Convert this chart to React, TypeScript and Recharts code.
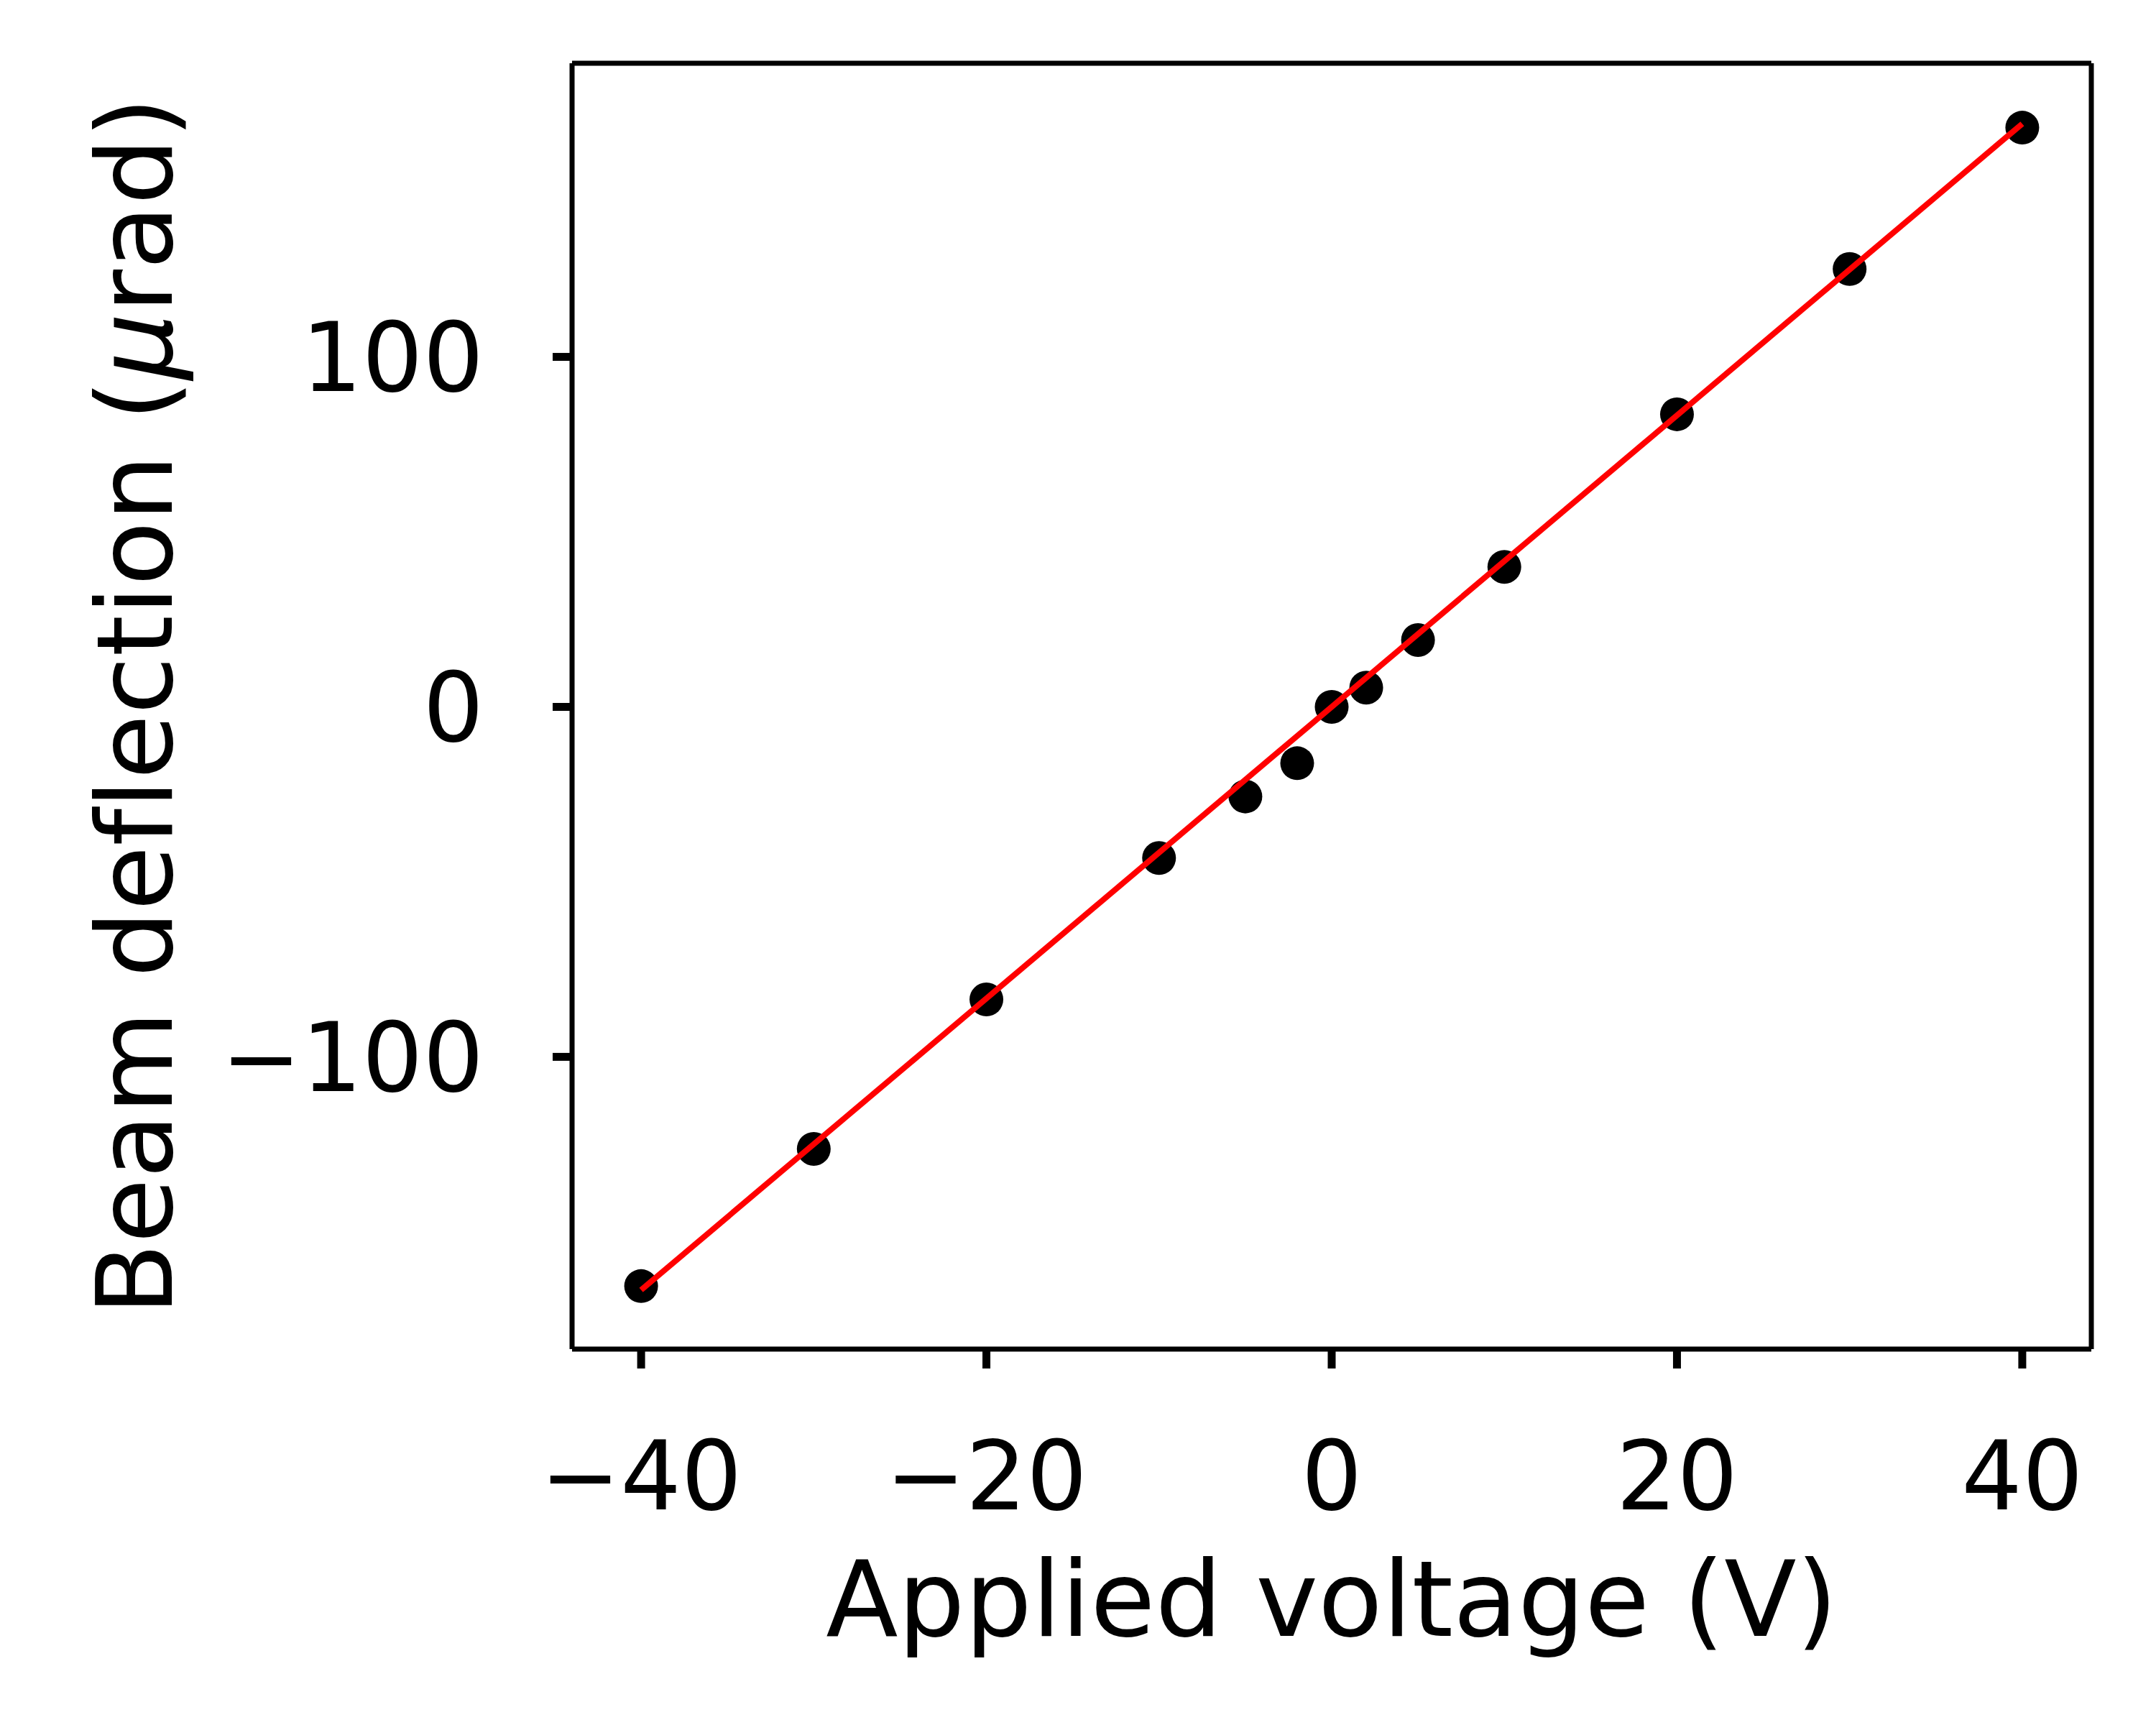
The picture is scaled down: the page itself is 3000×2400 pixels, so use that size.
import React from "react";
import { ComposedChart, Scatter, XAxis, YAxis, ReferenceLine } from "recharts";

const voltage = [-40, -30, -20, -10, -5, -2, 0, 2, 5, 10, 20, 30, 40];
const deflection = [-165.5, -126.3, -83.6, -43.2, -25.6, -16.1, 0, 5.5, 19.1, 40.0, 83.6, 125.1, 165.5];
const fitVoltage = [-40, 40];
const fitDeflection = [-166.6, 166.6];
const xTicks = [-40, -20, 0, 20, 40];
const yTicks = [-100, 0, 100];
const xDomain = [-44, 44];
const yDomain = [-183.5, 183.9];

const points = voltage.map((v, i) => ({ x: v, y: deflection[i] }));
const fit = fitVoltage.map((v, i) => ({ x: v, y: fitDeflection[i] }));

const FONT = "DejaVu Sans";
const fmt = (v: number) => String(v).replace("-", "\u2212");

const Dot = (p: any) => <circle cx={p.cx} cy={p.cy} r={23.5} fill="#000" />;
const NoDot = () => <g />;

const XLabel = (props: any) => {
  const vb = props.viewBox;
  return (
    <text x={vb.x + vb.width / 2} y={vb.y + 399} textAnchor="middle" fontFamily={FONT} fontSize={146.7} fill="#000"
      style={{ fontVariantLigatures: "none" }}>
      Applied voltage (V)
    </text>
  );
};

const YLabel = (props: any) => {
  const vb = props.viewBox;
  const cy = vb.y + vb.height / 2;
  const x = 239;
  return (
    <text x={x} y={cy} transform={`rotate(-90, ${x}, ${cy})`} textAnchor="middle" fontFamily={FONT} fontSize={146.7} fill="#000"
      style={{ fontVariantLigatures: "none", fontFeatureSettings: '"liga" 0' }}>
      Beam deflection (<tspan fontStyle="italic">μ</tspan>rad)
    </text>
  );
};

export default function App() {
  return (
    <div style={{ position: "absolute", left: 0, top: 0, width: 3000, height: 2400, background: "#fff" }}>
      <ComposedChart width={3000} height={2400} margin={{ top: 88, right: 90, bottom: 0, left: 0 }}>
        <XAxis
          type="number"
          dataKey="x"
          domain={xDomain}
          ticks={xTicks}
          tickFormatter={fmt}
          height={523}
          tickSize={27}
          tickMargin={102}
          axisLine={{ stroke: "#000", strokeWidth: 7 }}
          tickLine={{ stroke: "#000", strokeWidth: 11 }}
          tick={{ fill: "#000", fontSize: 133, fontFamily: FONT }}
          allowDataOverflow
          label={<XLabel />}
        />
        <YAxis
          type="number"
          dataKey="y"
          domain={yDomain}
          ticks={yTicks}
          tickFormatter={fmt}
          width={796}
          tickSize={27}
          tickMargin={96}
          axisLine={{ stroke: "#000", strokeWidth: 7 }}
          tickLine={{ stroke: "#000", strokeWidth: 11 }}
          tick={{ fill: "#000", fontSize: 133, fontFamily: FONT }}
          allowDataOverflow
          label={<YLabel />}
        />
        <ReferenceLine y={yDomain[1]} stroke="#000" strokeWidth={7} ifOverflow="extendDomain" />
        <ReferenceLine x={xDomain[1]} stroke="#000" strokeWidth={7} ifOverflow="extendDomain" />
        <Scatter data={points} shape={Dot} isAnimationActive={false} />
        <Scatter
          data={fit}
          shape={NoDot}
          line={{ stroke: "#ff0000", strokeWidth: 8 }}
          lineType="joint"
          isAnimationActive={false}
        />
      </ComposedChart>
    </div>
  );
}
